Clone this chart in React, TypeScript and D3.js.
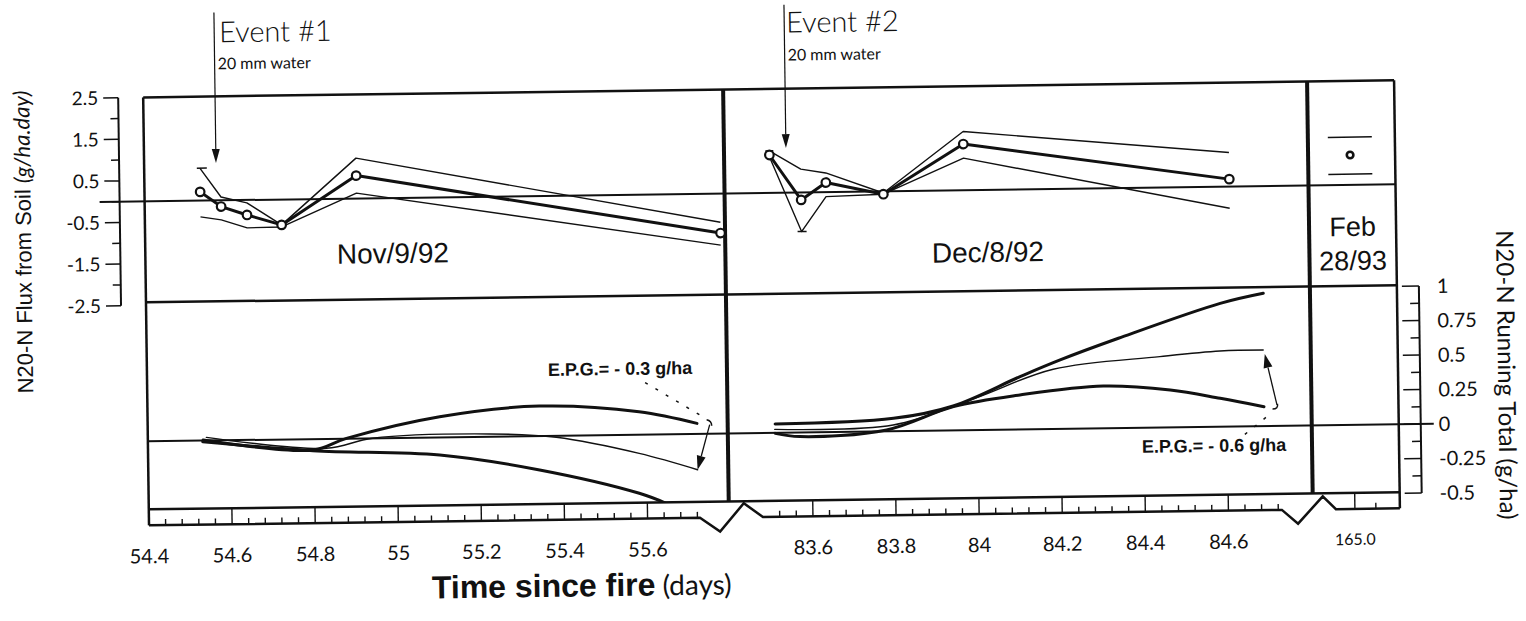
import React from 'react';
import * as d3 from 'd3';

// N2O-N flux (g/ha.day) after event #1 — sampling times in days since fire
const novTimes = [54.534, 54.584, 54.646, 54.729, 54.91, 55.785];
const novMean = [0.21, -0.15, -0.36, -0.61, 0.55, -0.95];
const novUpper = [0.78, 0.08, -0.07, -0.61, 0.97, -0.69];
const novLower = [-0.39, -0.47, -0.67, -0.66, 0.13, -1.24];

// N2O-N flux (g/ha.day) after event #2
const decTimes = [83.507, 83.582, 83.642, 83.78, 83.974, 84.613];
const decMean = [0.91, -0.18, 0.23, -0.07, 1.11, 0.18];
const decUpper = [1.01, 0.56, 0.46, -0.04, 1.41, 0.82];
const decLower = [0.87, -0.94, -0.11, -0.07, 0.77, -0.52];

// Single late-season sample
const febTime = 165.0;
const febMean = 0.72;
const febUpper = 1.15;
const febLower = 0.26;

// Running totals (g/ha) after event #1
const novHighT = [54.533, 54.797, 54.878, 55.103, 55.343, 55.583, 55.722];
const novHigh = [0.004, -0.079, 0.002, 0.15, 0.217, 0.166, 0.076];
const novMidT = [54.541, 54.829, 54.941, 55.222, 55.383, 55.582, 55.722];
const novMid = [0.023, -0.068, 0.0, 0.02, -0.011, -0.136, -0.26];
const novLowT = [54.532, 54.797, 55.102, 55.342, 55.581, 55.645];
const novLow = [-0.008, -0.084, -0.128, -0.246, -0.425, -0.5];

// Running totals (g/ha) after event #2
const decHighT = [83.512, 83.797, 83.941, 84.103, 84.2, 84.341, 84.587, 84.691];
const decHigh = [0.064, 0.093, 0.177, 0.383, 0.5, 0.651, 0.894, 0.963];
const decMidT = [83.511, 83.796, 83.993, 84.183, 84.44, 84.585, 84.689];
const decMid = [0.025, 0.045, 0.23, 0.433, 0.514, 0.549, 0.552];
const decLowT = [83.512, 83.571, 83.78, 83.942, 84.102, 84.303, 84.464, 84.584, 84.689];
const decLow = [-0.004, -0.03, 0.01, 0.172, 0.25, 0.307, 0.271, 0.206, 0.141];

// Watering events
const eventTimes = [54.573, 83.547];
const eventArrowTip = [0.9, 1.07];
const eventNames = ['Event #1', 'Event #2'];

// Axis labels
const xLabelsNov = [54.4, 54.6, 54.8, 55, 55.2, 55.4, 55.6];
const xLabelsDec = [83.6, 83.8, 84, 84.2, 84.4, 84.6];
const xLabelFeb = '165.0';
const fluxTicks = [2.5, 2, 1.5, 1, 0.5, 0, -0.5, -1, -1.5, -2, -2.5];
const fluxLabels = ['2.5', '1.5', '0.5', '-0.5', '-1.5', '-2.5'];
const totalTicks = [1, 0.875, 0.75, 0.625, 0.5, 0.375, 0.25, 0.125, 0, -0.125, -0.25, -0.375, -0.5];
const totalLabels = ['1', '0.75', '0.5', '0.25', '0', '-0.25', '-0.5'];

const HAND = "Lato, 'Open Sans', sans-serif";
const HELV = "'Liberation Sans', Arial, Helvetica, sans-serif";
const INK = '#111';

// Frame geometry
const L = 146, R = 1397, TOP = 89, MID = 294, BOT = 501, STRIP = 517;
const DIV1 = 726, DIV2 = 1310;

const xNov = d3.scaleLinear().domain([54.4, 55.6]).range([L, L + 1.2 * 415.5]);
const xDec = d3.scaleLinear().domain([83.6, 84.6]).range([810, 810 + 415.5]);
const xFeb = d3.scaleLinear().domain([165.0, 165.05]).range([1352, 1373]);
const yFlux = d3.scaleLinear().domain([-2.5, 2.5]).range([297, 89]);
const yTotal = d3.scaleLinear().domain([-0.5, 1]).range([502, 295]);

const fluxLine = (xs: d3.ScaleLinear<number, number>, ts: number[], vs: number[]) =>
  d3.line<number>().x((_, i) => xs(ts[i])).y((v) => yFlux(v))(vs) || '';

const totalLine = (xs: d3.ScaleLinear<number, number>, ts: number[], vs: number[]) =>
  d3
    .line<number>()
    .x((_, i) => xs(ts[i]))
    .y((v) => yTotal(v))
    .curve(d3.curveCatmullRom.alpha(0.5))(vs) || '';

function Arrow({ x1, y1, x2, y2, head = 13, w = 4.5, sw = 1.3 }: any) {
  const dx = x2 - x1, dy = y2 - y1;
  const len = Math.hypot(dx, dy);
  const ux = dx / len, uy = dy / len;
  const bx = x2 - ux * head, by = y2 - uy * head;
  const px = -uy * w, py = ux * w;
  return (
    <g>
      <line x1={x1} y1={y1} x2={bx} y2={by} stroke={INK} strokeWidth={sw} />
      <path d={`M${x2},${y2}L${bx + px},${by + py}L${bx - px},${by - py}Z`} fill={INK} />
    </g>
  );
}

export default function App() {
  const novTicks = d3.range(0, 34).map((i) => +(54.4 + i * 0.04).toFixed(2));
  const decTicks = d3.range(0, 31).map((i) => +(83.52 + i * 0.04).toFixed(2));
  const isMajor = (v: number) => Math.abs(v * 5 - Math.round(v * 5)) < 1e-6;

  const stripPath =
    `M${L},${STRIP}L697,${STRIP}L717,531L741,503L760,${STRIP}` +
    `L1279,${STRIP}L1295,531L1320,504L1333,${STRIP}L${R},${STRIP}`;

  const novEndX = xNov(novMidT[novMidT.length - 1]);
  const novEndY = yTotal(novMid[novMid.length - 1]);
  const decEndX = xDec(decMidT[decMidT.length - 1]);
  const decEndY = yTotal(decMid[decMid.length - 1]);

  return (
    <svg
      width={1526}
      height={621}
      style={{ position: 'absolute', left: 0, top: 0, background: '#fff' }}
    >
      <rect width={1526} height={621} fill="#fff" />
      <defs>
        <clipPath id="novClip">
          <rect x={L} y={MID} width={DIV1 - L} height={BOT - MID} />
        </clipPath>
      </defs>
      <g transform="rotate(-0.78 760 300)">
        {/* panel frame */}
        <g stroke={INK} fill="none">
          <line x1={L} y1={TOP} x2={R} y2={TOP} strokeWidth={2.5} />
          <line x1={L} y1={MID} x2={R} y2={MID} strokeWidth={2.5} />
          <line x1={L} y1={BOT} x2={R} y2={BOT} strokeWidth={2.5} />
          <line x1={L} y1={TOP} x2={L} y2={STRIP} strokeWidth={2.5} />
          <line x1={R} y1={TOP} x2={R} y2={STRIP} strokeWidth={2.5} />
          <line x1={DIV1} y1={TOP} x2={DIV1} y2={BOT} strokeWidth={4} />
          <line x1={DIV2} y1={TOP} x2={DIV2} y2={BOT} strokeWidth={4} />
          <line x1={101} y1={yFlux(0)} x2={R} y2={yFlux(0)} strokeWidth={2} />
          <line x1={L} y1={yTotal(0)} x2={1432} y2={yTotal(0)} strokeWidth={2} />
        </g>

        {/* time axis strip with breaks */}
        <g stroke={INK} fill="none">
          <path d={stripPath} strokeWidth={2.5} strokeLinejoin="miter" />
          {novTicks.map((v) => (
            <line key={'n' + v} x1={xNov(v)} x2={xNov(v)} y1={isMajor(v) ? BOT : STRIP - 6} y2={STRIP} strokeWidth={1.4} />
          ))}
          {decTicks.map((v) => (
            <line key={'d' + v} x1={xDec(v)} x2={xDec(v)} y1={isMajor(v) ? BOT : STRIP - 6} y2={STRIP} strokeWidth={1.4} />
          ))}
          <line x1={xFeb(165.0)} x2={xFeb(165.0)} y1={BOT} y2={STRIP} strokeWidth={1.4} />
          <line x1={xFeb(165.05)} x2={xFeb(165.05)} y1={STRIP - 6} y2={STRIP} strokeWidth={1.4} />
        </g>
        <g fontFamily={HAND} fontSize={20} fill={INK} textAnchor="middle">
          {xLabelsNov.map((v) => (
            <text key={'ln' + v} x={xNov(v)} y={555}>{String(v)}</text>
          ))}
          {xLabelsDec.map((v) => (
            <text key={'ld' + v} x={xDec(v)} y={555}>{String(v)}</text>
          ))}
          <text x={xFeb(165.0)} y={553} fontSize={16}>{xLabelFeb}</text>
        </g>
        <text x={428} y={594} fill={INK}>
          <tspan fontFamily={HELV} fontWeight="bold" fontSize={32}>Time since fire</tspan>
          <tspan fontFamily={HAND} fontSize={28}> (days)</tspan>
        </text>

        {/* flux axis (left) */}
        <g stroke={INK}>
          <line x1={121} y1={yFlux(2.5)} x2={121} y2={yFlux(-2.5)} strokeWidth={2} />
          {fluxTicks.map((v) => (
            <line key={'ft' + v} x1={Number.isInteger(v) ? 113 : 106} x2={121} y1={yFlux(v)} y2={yFlux(v)} strokeWidth={1.5} />
          ))}
        </g>
        <g fontFamily={HAND} fontSize={19} fill={INK} textAnchor="end">
          {fluxLabels.map((s) => (
            <text key={'fl' + s} x={101} y={yFlux(+s)} dy="0.36em">{s}</text>
          ))}
        </g>
        <text
          transform={`translate(32,232) rotate(-90)`}
          textAnchor="middle"
          fontFamily={HELV}
          fontSize={22}
          fill={INK}
        >
          N20-N Flux from Soil <tspan fontFamily={HAND} fontStyle="italic">(g/ha.day)</tspan>
        </text>

        {/* running total axis (right) */}
        <g stroke={INK}>
          <line x1={1419} y1={yTotal(1)} x2={1419} y2={yTotal(-0.5)} strokeWidth={2} />
          {totalTicks.map((v) => (
            <line key={'tt' + v} x1={Math.abs(v * 4 - Math.round(v * 4)) < 1e-6 ? 1402 : 1410} x2={1419} y1={yTotal(v)} y2={yTotal(v)} strokeWidth={1.5} />
          ))}
        </g>
        <g fontFamily={HAND} fontSize={20} fill={INK}>
          {totalLabels.map((s) => (
            <text key={'tl' + s} x={1437} y={yTotal(+s)} dy="0.36em">{s}</text>
          ))}
        </g>
        <text
          transform={`translate(1497,385) rotate(90)`}
          textAnchor="middle"
          fontFamily={HAND}
          fontSize={24}
          fill={INK}
        >
          N20-N Running Total (g/ha)
        </text>

        {/* flux series */}
        <g fill="none" stroke={INK} strokeLinejoin="round">
          <path d={fluxLine(xNov, novTimes, novUpper)} strokeWidth={1.4} />
          <path d={fluxLine(xNov, novTimes, novLower)} strokeWidth={1.4} />
          <path d={fluxLine(xNov, novTimes, novMean)} strokeWidth={3} />
          <path d={fluxLine(xDec, decTimes, decUpper)} strokeWidth={1.4} />
          <path d={fluxLine(xDec, decTimes, decLower)} strokeWidth={1.4} />
          <path d={fluxLine(xDec, decTimes, decMean)} strokeWidth={3} />
          {/* error caps */}
          <line x1={xNov(novTimes[0]) - 3} x2={xNov(novTimes[0]) + 7} y1={yFlux(novUpper[0])} y2={yFlux(novUpper[0])} strokeWidth={1.5} />
          <line x1={xDec(decTimes[0]) - 4} x2={xDec(decTimes[0]) + 4} y1={yFlux(decUpper[0])} y2={yFlux(decUpper[0])} strokeWidth={1.5} />
          <line x1={xDec(decTimes[1]) - 4} x2={xDec(decTimes[1]) + 5} y1={yFlux(decLower[1])} y2={yFlux(decLower[1])} strokeWidth={1.5} />
          {/* late sample */}
          <line x1={xFeb(febTime) - 22} x2={xFeb(febTime) + 22} y1={yFlux(febUpper)} y2={yFlux(febUpper)} strokeWidth={1.5} />
          <line x1={xFeb(febTime) - 22} x2={xFeb(febTime) + 22} y1={yFlux(febLower)} y2={yFlux(febLower)} strokeWidth={1.5} />
        </g>
        <g fill="#fff" stroke={INK} strokeWidth={2.2}>
          {novTimes.map((t, i) => (
            <circle key={'nc' + i} cx={xNov(t)} cy={yFlux(novMean[i])} r={4.3} />
          ))}
          {decTimes.map((t, i) => (
            <circle key={'dc' + i} cx={xDec(t)} cy={yFlux(decMean[i])} r={4.3} />
          ))}
          <circle cx={xFeb(febTime)} cy={yFlux(febMean)} r={3.3} strokeWidth={2.6} />
        </g>

        {/* date labels */}
        <g fontFamily={HELV} fontSize={28} fill={INK}>
          <text x={337.5} y={258}>Nov/9/92</text>
          <text x={932.5} y={265}>Dec/8/92</text>
          <text x={(DIV2 + R) / 2} y={244} textAnchor="middle" fontSize={27}>Feb</text>
          <text x={(DIV2 + R) / 2} y={278} textAnchor="middle" fontSize={27}>28/93</text>
        </g>

        {/* watering events */}
        {eventTimes.map((t, i) => {
          const xs = i === 0 ? xNov : xDec;
          const x = xs(t);
          return (
            <g key={'ev' + i}>
              <Arrow x1={x} y1={5} x2={x} y2={yFlux(eventArrowTip[i])} head={14} w={4} sw={1.2} />
              <text x={x + (i === 0 ? 5 : 2)} y={i === 0 ? 35 : 33} fontFamily={HAND} fontWeight={300} fontSize={29} fill={INK}>
                {eventNames[i]}
              </text>
              <text x={x + 3} y={i === 0 ? 62 : 61} fontFamily={HAND} fontSize={16} fill={INK}>
                20 mm water
              </text>
            </g>
          );
        })}

        {/* running totals */}
        <g fill="none" stroke={INK} strokeLinecap="round">
          <g clipPath="url(#novClip)">
            <path d={totalLine(xNov, novHighT, novHigh)} strokeWidth={3} />
            <path d={totalLine(xNov, novMidT, novMid)} strokeWidth={1.4} />
            <path d={totalLine(xNov, novLowT, novLow)} strokeWidth={3} />
          </g>
          <path d={totalLine(xDec, decHighT, decHigh)} strokeWidth={3} />
          <path d={totalLine(xDec, decMidT, decMid)} strokeWidth={1.4} />
          <path d={totalLine(xDec, decLowT, decLow)} strokeWidth={3} />
        </g>

        {/* E.P.G. annotations */}
        <g fontFamily={HELV} fontWeight="bold" fontSize={18} fill={INK}>
          <text x={547} y={373}>E.P.G.= - 0.3 g/ha</text>
          <text x={1140} y={458}>E.P.G.= - 0.6 g/ha</text>
        </g>
        <g fill="none" stroke={INK} strokeWidth={1.5}>
          <line x1={644} y1={381} x2={703} y2={417} strokeDasharray="3 9" />
          <path d={`M705,419Q710,420 710,425`} />
          <line x1={1243} y1={441} x2={1271} y2={419} strokeDasharray="3 9" />
          <path d={`M1271,416Q1277,416 1276,411`} />
        </g>
        <Arrow x1={708} y1={424} x2={novEndX} y2={novEndY} head={14} w={4.5} sw={1.3} />
        <Arrow x1={1275.5} y1={412} x2={decEndX + 1.5} y2={decEndY + 4} head={14} w={4.5} sw={1.3} />
      </g>
    </svg>
  );
}
